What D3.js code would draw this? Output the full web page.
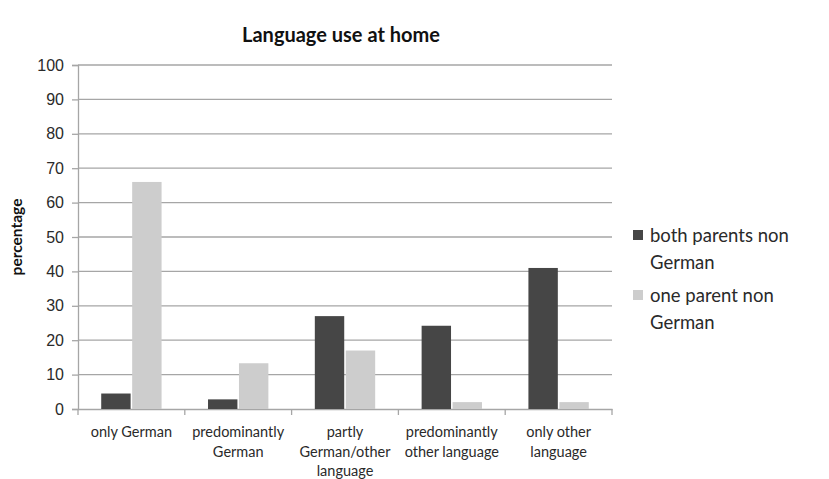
<!DOCTYPE html>
<html>
<head>
<meta charset="utf-8">
<script src="https://cdn.jsdelivr.net/npm/d3@7"></script>
<style>
  body { margin: 0; background: #fff; }
  svg { font-family: Lato, "Open Sans", sans-serif; }
</style>
</head>
<body>
<svg id="chart" width="829" height="479"></svg>
<script>
var categories = ["only German", "predominantly German", "partly German/other language", "predominantly other language", "only other language"];
var categoryLines = [["only German"], ["predominantly", "German"], ["partly", "German/other", "language"], ["predominantly", "other language"], ["only other", "language"]];
var seriesNames = ["both parents non German", "one parent non German"];
var legendLines = [["both parents non", "German"], ["one parent non", "German"]];
var bothParents = [4.5, 2.8, 27, 24.2, 41];
var oneParent = [66, 13.3, 17, 2, 2];
var yTicks = [0, 10, 20, 30, 40, 50, 60, 70, 80, 90, 100];
var colors = ["#464646", "#cdcdcd"];

var svg = d3.select("#chart"),
    margin = {top: 65, right: 217, bottom: 70, left: 78},
    width = +svg.attr("width") - margin.left - margin.right,
    height = +svg.attr("height") - margin.top - margin.bottom;

var data = categories.map(function(c, i) {
  return {cat: c, lines: categoryLines[i], values: [bothParents[i], oneParent[i]]};
});

var x0 = d3.scaleBand().domain(categories).range([0, width]).padding(0),
    x1 = d3.scaleBand().domain([0, 1]).range([0, x0.bandwidth()]).paddingOuter(0.75).paddingInner(0.05),
    y = d3.scaleLinear().domain([0, 100]).range([height, 0]);

var g = svg.append("g")
    .attr("transform", "translate(" + margin.left + "," + margin.top + ")");

// gridlines
g.append("g")
  .selectAll("line")
  .data(yTicks.slice(1))
  .enter().append("line")
    .attr("x1", 0)
    .attr("x2", width)
    .attr("y1", function(d) { return y(d); })
    .attr("y2", function(d) { return y(d); })
    .attr("stroke", "#a6a6a6")
    .attr("stroke-width", 1.3);

// y axis
var yAxis = g.append("g")
    .call(d3.axisLeft(y).tickValues(yTicks).tickSize(6).tickPadding(8));
yAxis.select(".domain").attr("stroke", "#a6a6a6").attr("stroke-width", 1.3);
yAxis.selectAll(".tick line").attr("stroke", "#a6a6a6").attr("stroke-width", 1.3);
yAxis.selectAll(".tick text")
    .style("font-size", "16px")
    .attr("fill", "#2a2a2a");

// x axis
var xAxis = g.append("g")
    .attr("transform", "translate(0," + height + ")")
    .call(d3.axisBottom(x0).tickSize(0).tickFormat(""));
xAxis.select(".domain").attr("stroke", "#a6a6a6").attr("stroke-width", 1.3);
xAxis.selectAll(".tick").remove();

g.append("g")
  .selectAll("line")
  .data(d3.range(categories.length + 1))
  .enter().append("line")
    .attr("x1", function(i) { return i * x0.step(); })
    .attr("x2", function(i) { return i * x0.step(); })
    .attr("y1", height)
    .attr("y2", height + 6)
    .attr("stroke", "#a6a6a6")
    .attr("stroke-width", 1.3);

var labels = g.append("g")
  .selectAll("text")
  .data(data)
  .enter().append("text")
    .attr("text-anchor", "middle")
    .attr("fill", "#2a2a2a")
    .style("font-size", "14.5px")
    .attr("transform", function(d) { return "translate(" + (x0(d.cat) + x0.bandwidth() / 2) + "," + (height + 28) + ")"; });
labels.selectAll("tspan")
  .data(function(d) { return d.lines; })
  .enter().append("tspan")
    .attr("x", 0)
    .attr("y", function(d, i) { return i * 19.5; })
    .text(function(d) { return d; });

// bars
g.append("g")
  .selectAll("g")
  .data(data)
  .enter().append("g")
    .attr("transform", function(d) { return "translate(" + x0(d.cat) + ",0)"; })
  .selectAll("rect")
  .data(function(d) { return d.values.map(function(v, i) { return {i: i, v: v}; }); })
  .enter().append("rect")
    .attr("x", function(d) { return x1(d.i); })
    .attr("y", function(d) { return y(d.v); })
    .attr("width", x1.bandwidth())
    .attr("height", function(d) { return height - y(d.v); })
    .attr("fill", function(d) { return colors[d.i]; });

// title
svg.append("text")
    .attr("x", 341)
    .attr("y", 42)
    .attr("text-anchor", "middle")
    .style("font-size", "20px")
    .style("font-weight", "bold")
    .attr("fill", "#111")
    .text("Language use at home");

// y label
svg.append("text")
    .attr("transform", "translate(22," + (margin.top + y(50)) + ") rotate(-90)")
    .attr("text-anchor", "middle")
    .style("font-size", "15.5px")
    .style("font-weight", "bold")
    .attr("fill", "#111")
    .text("percentage");

// legend
var legend = svg.append("g")
  .selectAll("g")
  .data(seriesNames)
  .enter().append("g")
    .attr("transform", function(d, i) { return "translate(633," + (236 + i * 60) + ")"; });
legend.append("rect")
    .attr("x", 0)
    .attr("y", -6)
    .attr("width", 10)
    .attr("height", 10)
    .attr("fill", function(d, i) { return colors[i]; });
legend.append("text")
    .attr("fill", "#2a2a2a")
    .style("font-size", "18.5px")
  .selectAll("tspan")
  .data(function(d, i) { return legendLines[i]; })
  .enter().append("tspan")
    .attr("x", 17)
    .attr("y", function(d, i) { return 6 + i * 27; })
    .text(function(d) { return d; });
</script>
</body>
</html>
